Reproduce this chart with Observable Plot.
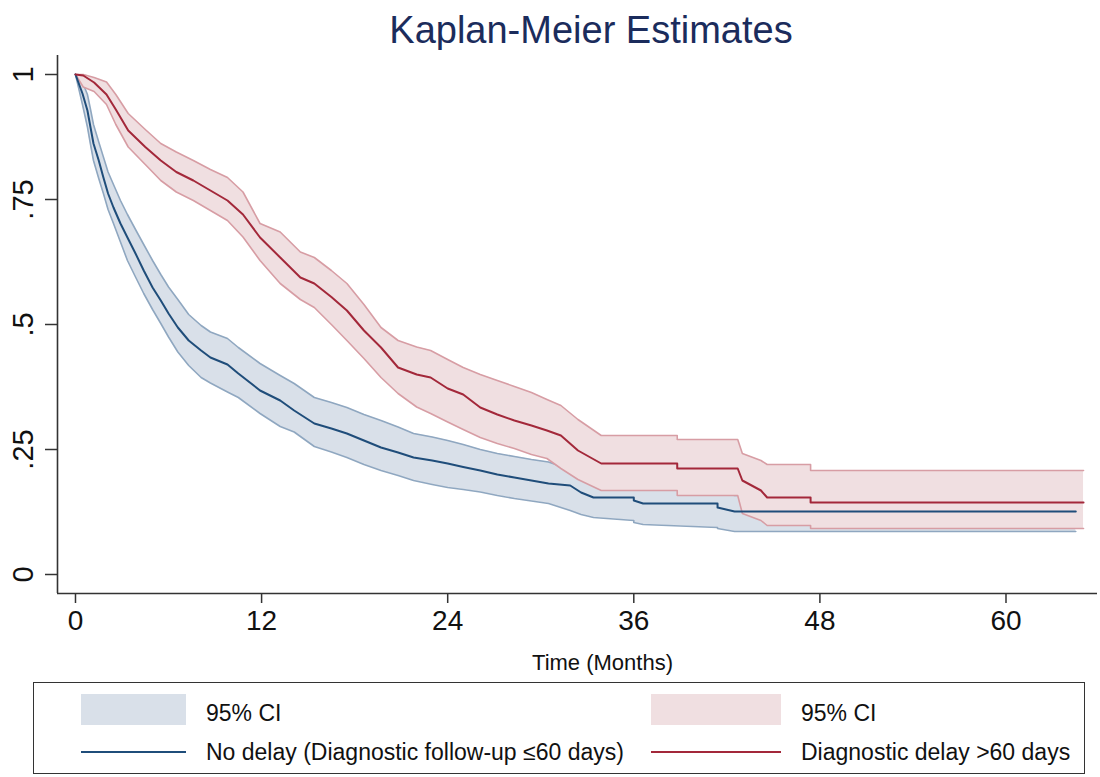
<!DOCTYPE html>
<html>
<head>
<meta charset="utf-8">
<script src="https://cdn.jsdelivr.net/npm/d3@7"></script>
<script src="https://cdn.jsdelivr.net/npm/@observablehq/plot@0.6"></script>
<style>
  html, body { margin: 0; padding: 0; background: #fff; overflow: hidden; }
  #wrap { position: relative; width: 1100px; height: 777px; font-family: "Liberation Sans", Arial, Helvetica, sans-serif; }
  #title { position: absolute; left: 91px; top: 8px; width: 1000px; text-align: center; font-size: 38px; line-height: 44px; color: #1b2c5c; }
  #chart { position: absolute; left: 0; top: 50px; }
  #legend { position: absolute; left: 33px; top: 682px; width: 1052px; height: 92px; border: 1.5px solid #333; box-sizing: border-box; }
  .sw { position: absolute; }
  .lt { position: absolute; font-size: 23px; line-height: 26px; color: #111; white-space: nowrap; }
  .ylab text { font-size: 29px; }
</style>
</head>
<body>
<div id="wrap">
  <div id="title">Kaplan-Meier Estimates</div>
  <div id="chart"></div>
  <div id="legend"></div>
</div>
<script>
// ---- Data ----
// Diagnostic delay >60 days
const redT  = [0, 0.5, 1.2, 2.0, 2.6, 3.4, 4.5, 5.5, 6.5, 7.6, 8.7, 9.8, 10.8, 11.9, 13.2, 14.5, 15.4, 16.5, 17.5, 18.6, 19.7, 20.8, 22.0, 22.9, 24.0, 25.0, 26.1, 27.2, 28.3, 29.4, 30.4, 31.3, 32.4, 33.9, 38.8, 38.8, 42.7, 43.0, 44.2, 44.6, 47.4, 47.4, 65];
const redS  = [1, 0.998, 0.984, 0.96, 0.93, 0.888, 0.855, 0.828, 0.805, 0.788, 0.768, 0.748, 0.72, 0.674, 0.634, 0.594, 0.582, 0.555, 0.528, 0.488, 0.454, 0.414, 0.40, 0.394, 0.372, 0.36, 0.334, 0.32, 0.308, 0.298, 0.288, 0.278, 0.248, 0.222, 0.222, 0.212, 0.212, 0.188, 0.168, 0.154, 0.154, 0.144, 0.144];
const redHi = [1, 1.0, 0.994, 0.985, 0.96, 0.922, 0.89, 0.862, 0.845, 0.828, 0.81, 0.794, 0.765, 0.702, 0.685, 0.645, 0.634, 0.608, 0.582, 0.54, 0.494, 0.468, 0.455, 0.448, 0.43, 0.414, 0.40, 0.388, 0.376, 0.364, 0.35, 0.338, 0.31, 0.278, 0.278, 0.27, 0.27, 0.242, 0.228, 0.22, 0.22, 0.208, 0.208];
const redLo = [1, 0.975, 0.966, 0.94, 0.9, 0.855, 0.82, 0.788, 0.765, 0.748, 0.728, 0.708, 0.675, 0.628, 0.582, 0.55, 0.534, 0.50, 0.468, 0.432, 0.394, 0.362, 0.335, 0.322, 0.305, 0.29, 0.274, 0.262, 0.252, 0.24, 0.232, 0.212, 0.19, 0.168, 0.168, 0.158, 0.158, 0.122, 0.108, 0.098, 0.098, 0.092, 0.092];

// No delay (Diagnostic follow-up <=60 days)
const blueT  = [0, 0.45, 0.77, 0.97, 1.16, 1.5, 1.8, 2.1, 2.45, 2.9, 3.35, 3.87, 4.4, 4.97, 5.5, 6.0, 6.6, 7.3, 8.1, 8.7, 9.8, 10.5, 11.9, 13.2, 14.1, 15.4, 16.5, 17.5, 18.6, 19.7, 20.8, 21.8, 23.0, 24.0, 25.0, 26.1, 27.2, 28.3, 29.4, 30.5, 31.9, 32.6, 33.4, 36.0, 36.0, 36.6, 41.4, 41.4, 42.5, 64.5];
const blueS  = [1, 0.962, 0.928, 0.894, 0.862, 0.828, 0.794, 0.762, 0.734, 0.702, 0.674, 0.642, 0.608, 0.574, 0.548, 0.522, 0.494, 0.468, 0.448, 0.434, 0.42, 0.402, 0.368, 0.348, 0.328, 0.302, 0.292, 0.282, 0.268, 0.254, 0.244, 0.234, 0.228, 0.222, 0.215, 0.208, 0.2, 0.194, 0.188, 0.182, 0.178, 0.164, 0.154, 0.154, 0.148, 0.142, 0.142, 0.134, 0.126, 0.126];
const blueHi = [1, 0.985, 0.96, 0.93, 0.90, 0.865, 0.835, 0.805, 0.78, 0.748, 0.72, 0.69, 0.66, 0.628, 0.60, 0.575, 0.55, 0.52, 0.498, 0.485, 0.472, 0.454, 0.422, 0.398, 0.382, 0.354, 0.344, 0.334, 0.32, 0.308, 0.295, 0.282, 0.275, 0.268, 0.26, 0.25, 0.242, 0.236, 0.23, 0.225, 0.21, 0.198, 0.188, 0.188, 0.18, 0.175, 0.175, 0.165, 0.158, 0.158];
const blueLo = [1, 0.94, 0.895, 0.86, 0.828, 0.792, 0.762, 0.73, 0.702, 0.665, 0.628, 0.595, 0.562, 0.53, 0.502, 0.475, 0.445, 0.418, 0.394, 0.383, 0.365, 0.354, 0.322, 0.296, 0.285, 0.256, 0.245, 0.234, 0.22, 0.208, 0.198, 0.188, 0.18, 0.174, 0.17, 0.165, 0.158, 0.152, 0.147, 0.142, 0.128, 0.12, 0.114, 0.108, 0.104, 0.1, 0.094, 0.092, 0.086, 0.086];

const xTicks = [0, 12, 24, 36, 48, 60];
const yTicks = [0, 0.25, 0.5, 0.75, 1];
const yTickLabels = ["0", ".25", ".5", ".75", "1"];
const titleText = "Kaplan-Meier Estimates";
const xLabel = "Time (Months)";
const seriesNames = ["No delay (Diagnostic follow-up \u226460 days)", "Diagnostic delay >60 days"];
const ciLabel = "95% CI";

// ---- Styles ----
const blueLine = "#1f4d7a", blueFill = "#d9e0e9", blueEdge = "#8fa7c0";
const redLine = "#a3283a", redFill = "#f0dfe1", redEdge = "#d79da4";

const red = redT.map((t, i) => ({t, s: redS[i], hi: redHi[i], lo: redLo[i]}));
const blue = blueT.map((t, i) => ({t, s: blueS[i], hi: blueHi[i], lo: blueLo[i]}));

const X0 = -1.16, X1 = 65.9, Y0 = -0.038, Y1 = 1.038;

const chart = Plot.plot({
  width: 1100,
  height: 630,
  marginLeft: 57,
  marginRight: 3,
  marginTop: 5,
  marginBottom: 87,
  x: {domain: [X0, X1], label: null},
  y: {domain: [Y0, Y1], label: null},
  style: {fontFamily: "'Liberation Sans', Arial, Helvetica, sans-serif", background: "white", color: "#222"},
  marks: [
    Plot.areaY(blue, {x: "t", y1: "lo", y2: "hi", fill: blueFill}),
    Plot.line(blue, {x: "t", y: "hi", stroke: blueEdge, strokeWidth: 1.6}),
    Plot.line(blue, {x: "t", y: "lo", stroke: blueEdge, strokeWidth: 1.6}),
    Plot.areaY(red, {x: "t", y1: "lo", y2: "hi", fill: redFill}),
    Plot.line(red, {x: "t", y: "hi", stroke: redEdge, strokeWidth: 1.6}),
    Plot.line(red, {x: "t", y: "lo", stroke: redEdge, strokeWidth: 1.6}),
    Plot.line(blue, {x: "t", y: "s", stroke: blueLine, strokeWidth: 2}),
    Plot.line(red, {x: "t", y: "s", stroke: redLine, strokeWidth: 2}),
    Plot.ruleX([X0], {y1: Y0, y2: Y1, stroke: "#333", strokeWidth: 1.6}),
    Plot.ruleY([Y0], {x1: X0, x2: X1, stroke: "#333", strokeWidth: 1.6}),
    Plot.axisY(yTicks, {tickSize: 12, tickFormat: () => "", label: null, stroke: "#333", strokeWidth: 1.5}),
    Plot.text(yTicks, {x: () => X0, y: d => d, text: (d, i) => yTickLabels[i], rotate: -90, dx: -34, fontSize: 29, className: "ylab", textAnchor: "middle", lineAnchor: "middle", fill: "#111"}),
    Plot.axisX(xTicks, {tickSize: 10, tickPadding: 7, fontSize: 28, label: null, stroke: "#333", strokeWidth: 1.5, fill: "#111"}),
    Plot.text([xLabel], {frameAnchor: "bottom", text: d => d, dx: 25, dy: 69, fontSize: 22, lineAnchor: "middle", fill: "#111"})
  ]
});
document.getElementById("chart").appendChild(chart);
document.getElementById("title").textContent = titleText;

// ---- Legend (HTML, below the SVG) ----
const legend = document.getElementById("legend");
const L = 33, T = 682;
function add(html) { legend.insertAdjacentHTML("beforeend", html); }
const cols = [
  {sx: 80, sw: 105, tx: 205, fill: blueFill, line: blueLine, name: seriesNames[0]},
  {sx: 650, sw: 130, tx: 800, fill: redFill, line: redLine, name: seriesNames[1]}
];
cols.forEach(c => {
  add(`<div class="sw" style="left:${c.sx - L}px;top:${693 - T}px;width:${c.sw}px;height:31px;background:${c.fill}"></div>`);
  add(`<div class="lt" style="left:${c.tx - L}px;top:${712 - 13 - T}px">${ciLabel}</div>`);
  add(`<div class="sw" style="left:${c.sx - L}px;top:${750 - T}px;width:${c.sw}px;height:2px;background:${c.line}"></div>`);
  add(`<div class="lt" style="left:${c.tx - L}px;top:${751 - 13 - T}px">${c.name}</div>`);
});
</script>
</body>
</html>
